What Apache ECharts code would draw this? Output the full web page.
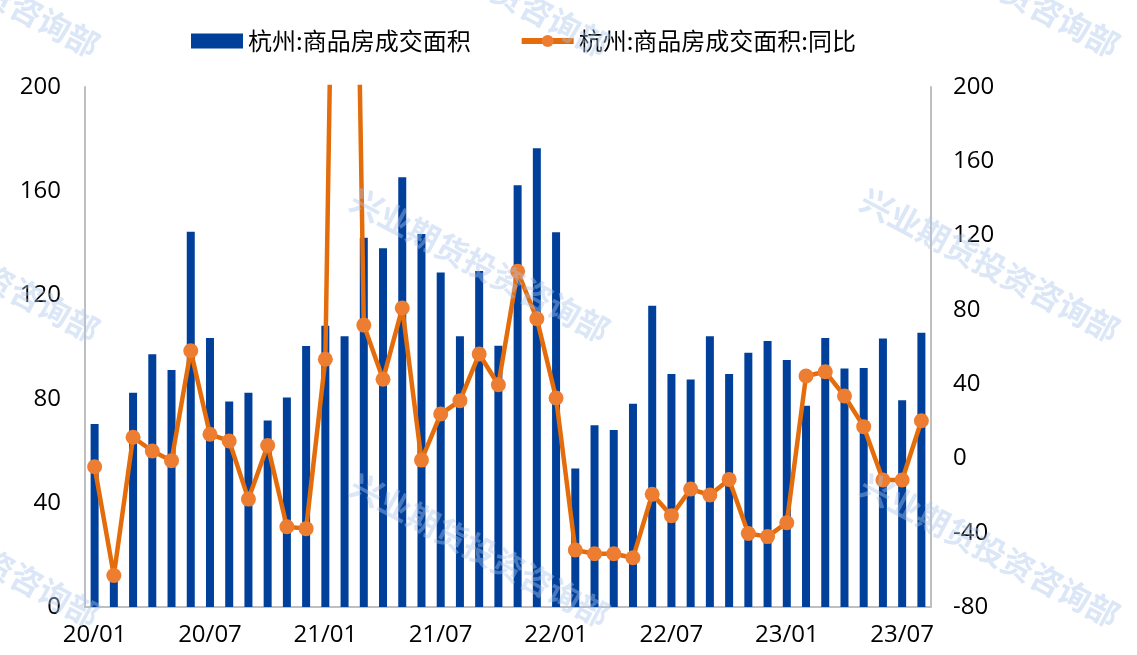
<!DOCTYPE html>
<html>
<head>
<meta charset="utf-8">
<script src="https://cdn.jsdelivr.net/npm/echarts@6/dist/echarts.min.js"></script>
<style>
  html, body { margin: 0; padding: 0; background: #fff; }
  #chart { width: 1137px; height: 655px; }
</style>
</head>
<body>
<div id="chart"></div>
<script>
// months 20/01 .. 23/08
const months = [
  '20/01','20/02','20/03','20/04','20/05','20/06','20/07','20/08','20/09','20/10','20/11','20/12',
  '21/01','21/02','21/03','21/04','21/05','21/06','21/07','21/08','21/09','21/10','21/11','21/12',
  '22/01','22/02','22/03','22/04','22/05','22/06','22/07','22/08','22/09','22/10','22/11','22/12',
  '23/01','23/02','23/03','23/04','23/05','23/06','23/07','23/08'
];

// 成交面积 (左轴)
const area = [
  70.4, 13, 82.4, 97.2, 91.2, 144.3, 103.5, 79, 82.4, 71.7, 80.6, 100.4,
  108.2, 104.1, 142, 138, 165.3, 143.5, 128.7, 104.1, 129.2, 100.5, 162.2, 176.4,
  144.1, 53.3, 69.9, 68.1, 78.2, 115.9, 89.6, 87.5, 104.1, 89.6, 97.8, 102.3,
  95, 77.4, 103.5, 91.7, 91.9, 103.3, 79.5, 105.5
];

// 同比 (右轴), 21/02 超出坐标范围
const yoy = [
  -4.5, -63, 11.4, 4, -1.2, 58, 13, 9.4, -21.9, 7, -36.8, -37.8,
  53.4, 700, 71.8, 42.6, 81, -0.9, 23.9, 31.1, 56.2, 39.7, 100.8, 75.2,
  32.5, -49.3, -51.3, -51.3, -53.5, -19.3, -30.8, -16.5, -19.7, -11.3, -40.4, -42.1,
  -34.6, 44.4, 46.7, 33.6, 17.1, -11.6, -11.6, 20.3
];

const labelFont = { fontFamily: 'Open Sans', fontSize: 24, color: '#000' };

// watermark text
const wmText = '兴业期货投资咨询部';
const wmPos = [[-30, -20], [480, -20], [990, -20], [-30, 265], [480, 265], [990, 265], [-30, 550], [480, 550], [990, 550]];
const watermarks = wmPos.map(p => ({
  type: 'text',
  x: p[0], y: p[1],
  rotation: -0.49,
  z: 100,
  style: {
    text: wmText,
    x: 0, y: 0,
    align: 'center',
    verticalAlign: 'middle',
    font: 'bold 32px "Noto Sans CJK SC"',
    fill: 'rgba(170, 195, 235, 0.42)'
  }
}));

const chart = echarts.init(document.getElementById('chart'));

chart.setOption({
  animation: false,
  legend: {
    top: 24,
    left: 186,
    itemGap: 48,
    itemWidth: 52,
    itemHeight: 15,
    textStyle: { fontFamily: 'Noto Sans CJK SC', fontSize: 24, color: '#000' },
    data: [
      { name: '杭州:商品房成交面积', icon: 'rect' },
      { name: '杭州:商品房成交面积:同比', lineStyle: { width: 6 } }
    ]
  },
  grid: { left: 85, right: 206, top: 87, bottom: 48 },
  xAxis: {
    type: 'category',
    data: months,
    axisLine: { lineStyle: { color: '#bfbfbf', width: 2 } },
    axisTick: { show: false },
    axisLabel: Object.assign({ interval: 5, margin: 16 }, labelFont)
  },
  yAxis: [
    {
      type: 'value', min: 0, max: 200, interval: 40,
      axisLine: { show: true, lineStyle: { color: '#bfbfbf', width: 2 } },
      axisTick: { show: false },
      splitLine: { show: false },
      axisLabel: Object.assign({ margin: 24 }, labelFont)
    },
    {
      type: 'value', min: -80, max: 200, interval: 40,
      axisLine: { show: true, lineStyle: { color: '#bfbfbf', width: 2 } },
      axisTick: { show: false },
      splitLine: { show: false },
      axisLabel: Object.assign({ margin: 22 }, labelFont)
    }
  ],
  series: [
    {
      name: '杭州:商品房成交面积',
      type: 'bar',
      yAxisIndex: 0,
      barWidth: 8,
      itemStyle: { color: '#00409A' },
      data: area
    },
    {
      name: '杭州:商品房成交面积:同比',
      type: 'line',
      yAxisIndex: 1,
      clip: true,
      symbol: 'circle',
      symbolSize: 15,
      showAllSymbol: true,
      lineStyle: { color: '#E46C0A', width: 4.5 },
      itemStyle: { color: '#ED7D31' },
      data: yoy
    }
  ],
  graphic: watermarks
});
</script>
</body>
</html>
